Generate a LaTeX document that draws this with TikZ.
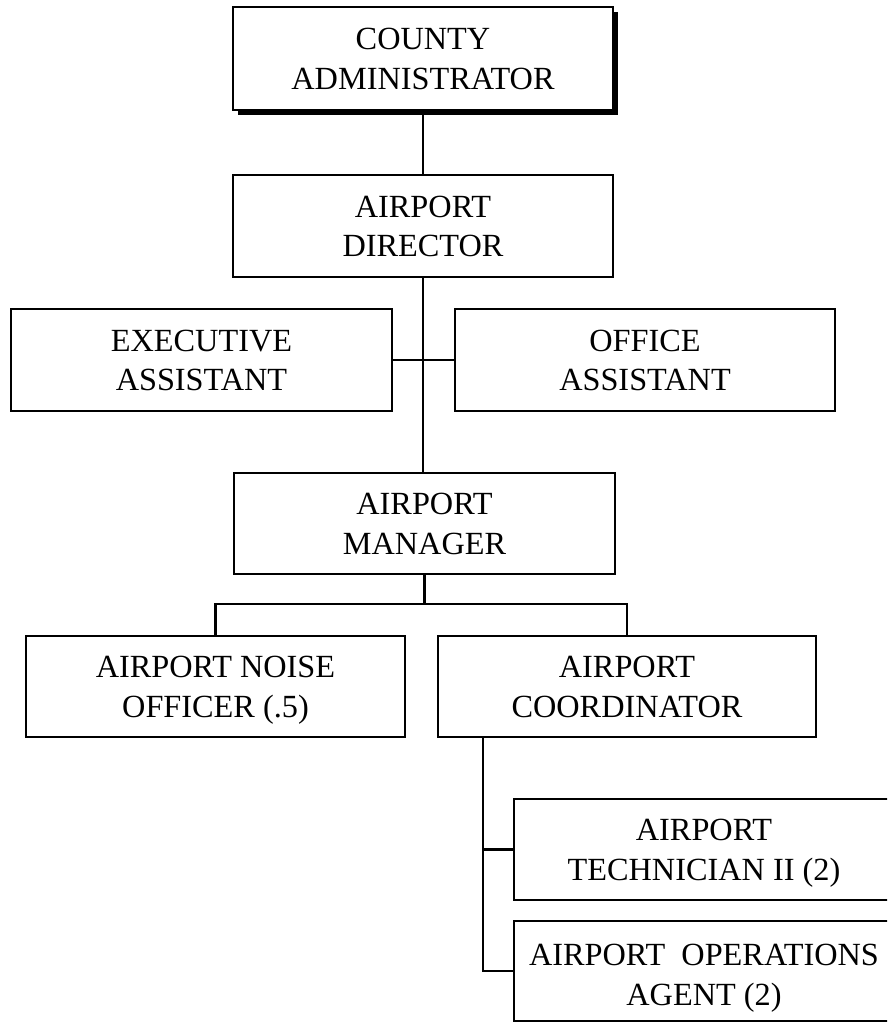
\documentclass[tikz,border=0pt]{standalone}
\usepackage{fontspec}
\setmainfont{Liberation Serif}
\usetikzlibrary{shadows}
\newcommand\twoline[3][21.5pt]{\rule{0pt}{#1}\smash{#2}\\\smash{#3}}
\begin{document}
\begin{tikzpicture}[x=1pt,y=-1pt,
  box/.style={draw=black,line width=2.5pt,fill=white,rectangle,align=center,
    minimum width=380pt,minimum height=102pt,inner sep=0pt,
    font=\fontsize{32.3}{39.5}\selectfont},
  shadowbox/.style={box,drop shadow={shadow xshift=5pt,shadow yshift=-5pt,fill=black,opacity=1}},
  link/.style={line width=2.5pt,line cap=rect}]
\clip (0,0) rectangle (887,1023);
\fill[white] (0,0) rectangle (887,1023);
\node[shadowbox,minimum height=103pt] (county) at (423,58.5) {\twoline{COUNTY}{ADMINISTRATOR}};
\node[box] (director) at (423,226) {\twoline{AIRPORT}{DIRECTOR}};
\node[box,minimum width=381pt] (exec) at (201.5,360) {\twoline{EXECUTIVE}{ASSISTANT}};
\node[box] (office) at (645,360) {\twoline{OFFICE}{ASSISTANT}};
\node[box,minimum width=381pt,minimum height=101pt] (manager) at (424.5,523.5) {\twoline{AIRPORT}{MANAGER}};
\node[box,minimum width=379pt,minimum height=101pt] (noise) at (215.5,686.5) {\twoline{AIRPORT NOISE}{OFFICER (.5)}};
\node[box,minimum width=378pt,minimum height=101pt] (coord) at (627,686.5) {\twoline{AIRPORT}{COORDINATOR}};
\node[box,minimum height=101pt] (tech) at (704,849.5) {\twoline{AIRPORT}{TECHNICIAN II (2)}};
\node[box,minimum height=100pt] (ops) at (704,971) {\twoline[29pt]{AIRPORT\ \ OPERATIONS}{AGENT (2)}};
\coordinate (bus) at (424.5,604);
\coordinate (busL) at (215.5,604);
\coordinate (busR) at (627,604);
\coordinate (cdrop) at (483,737);
\draw[link] (county.south -| director.north) -- (director.north);
\draw[link] (director.south) -- (director.south |- manager.north);
\draw[link] (exec.east) -- (office.west);
\draw[link] (manager.south) -- (bus);
\draw[link] (busL) -- (busR);
\draw[link] (busL) -- (noise.north);
\draw[link] (busR) -- (coord.north);
\draw[link] (cdrop) -- (cdrop |- ops.west) -- (ops.west);
\draw[link] (cdrop |- tech.west) -- (tech.west);
\end{tikzpicture}
\end{document}
